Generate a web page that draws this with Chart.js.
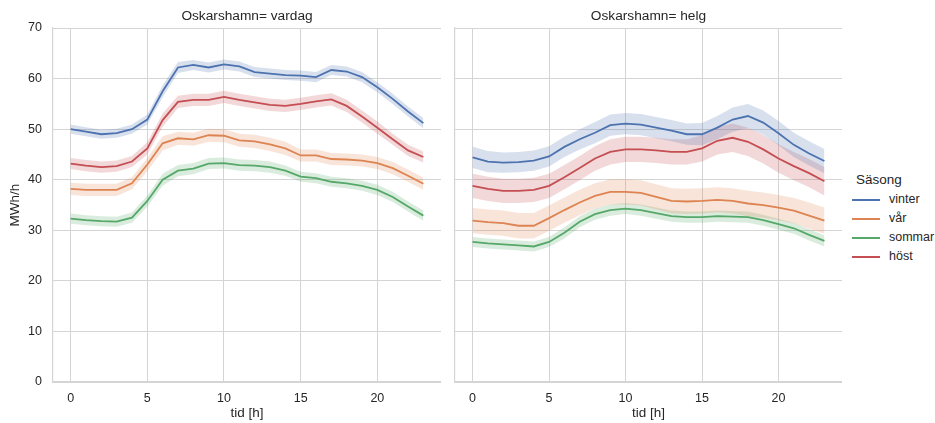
<!DOCTYPE html>
<html><head><meta charset="utf-8">
<script src="https://cdn.jsdelivr.net/npm/chart.js@4/dist/chart.umd.min.js"></script>
<style>
html,body{margin:0;padding:0;background:#fff;width:935px;height:423px;overflow:hidden;font-family:"Liberation Sans",Arial,sans-serif;}
#c1{position:absolute;left:0;top:0;}
#c2{position:absolute;left:445px;top:0;}
#legend{position:absolute;left:846px;top:170px;color:#262626;font-size:12.5px;}
#legend .t{font-size:13.5px;margin-left:10px;height:20px;line-height:20px;}
#legend .r{height:19px;line-height:19px;display:flex;align-items:center;}
#legend .r span.l{display:inline-block;width:28px;height:2px;margin-left:6px;margin-right:9px;}
</style></head>
<body>
<canvas id="c1" width="441" height="423"></canvas>
<canvas id="c2" width="397" height="423"></canvas>
<div id="legend"></div>
<script>
const hours = [0,1,2,3,4,5,6,7,8,9,10,11,12,13,14,15,16,17,18,19,20,21,22,23];
const seasons = ["vinter","vår","sommar","höst"];
const panelTitles = ["Oskarshamn= vardag","Oskarshamn= helg"];
const xTicks = [0,5,10,15,20];
const yTicks = [0,10,20,30,40,50,60,70];

// vardag (weekday)
const vinterVardag = [50,49.5,49,49.2,50,51.9,57.5,62.2,62.7,62.2,62.8,62.4,61.3,61,60.7,60.6,60.3,61.7,61.4,60.3,58.3,56,53.5,51.2];
const varVardag    = [38.2,38,38,38,39.3,43,47.2,48.2,48,48.8,48.7,47.8,47.6,47,46.2,44.8,44.8,44.1,44,43.8,43.3,42.3,40.8,39.2];
const sommarVardag = [32.3,32,31.8,31.7,32.5,35.8,40,41.8,42.2,43.2,43.3,42.9,42.8,42.5,41.8,40.6,40.3,39.6,39.3,38.8,38,36.6,34.7,32.9];
const hostVardag   = [43.2,42.8,42.5,42.7,43.6,46.2,51.8,55.4,55.8,55.8,56.4,55.8,55.3,54.8,54.6,55,55.5,55.9,54.6,52.5,50.3,48,45.8,44.5];
// helg (weekend)
const vinterHelg = [44.4,43.6,43.4,43.5,43.8,44.6,46.5,48,49.3,50.8,51.1,50.9,50.3,49.7,49,49,50.3,51.9,52.6,51.3,49.2,46.9,45.2,43.7];
const varHelg    = [31.9,31.6,31.4,30.9,30.9,32.4,34,35.5,36.8,37.6,37.6,37.4,36.6,35.8,35.7,35.8,36,35.8,35.3,35,34.5,33.9,32.9,31.9];
const sommarHelg = [27.7,27.4,27.2,27,26.8,27.7,29.5,31.7,33.2,34,34.3,34,33.4,32.8,32.6,32.6,32.8,32.7,32.6,32,31.2,30.4,29.1,27.9];
const hostHelg   = [38.8,38.2,37.8,37.8,38,38.8,40.5,42.3,44.2,45.5,46,46,45.8,45.5,45.5,46.2,47.7,48.3,47.5,46,44.2,42.7,41.3,39.7];

// confidence-band half widths
const vinterVardagCi = [0.9,0.9,0.9,0.9,0.9,1.0,1.2,1.1,1.0,1.0,1.0,1.0,1.0,1.0,1.0,1.0,1.0,1.0,1.0,1.0,1.0,1.0,1.0,1.0];
const varVardagCi    = [1.2,1.2,1.2,1.2,1.2,1.3,1.4,1.3,1.3,1.3,1.3,1.3,1.3,1.3,1.3,1.2,1.2,1.2,1.2,1.2,1.2,1.2,1.2,1.2];
const sommarVardagCi = [1.0,1.0,1.0,1.0,1.0,1.1,1.2,1.1,1.1,1.1,1.1,1.1,1.1,1.1,1.0,1.0,1.0,1.0,1.0,1.0,1.0,1.0,1.0,1.0];
const hostVardagCi   = [1.1,1.1,1.1,1.1,1.1,1.2,1.3,1.2,1.2,1.2,1.2,1.2,1.2,1.2,1.2,1.2,1.2,1.2,1.2,1.2,1.2,1.1,1.1,1.1];
const vinterHelgCi = [2.1,2.1,2.0,2.0,2.0,2.0,2.0,2.0,2.1,2.1,2.1,2.1,2.1,2.1,2.1,2.2,2.3,2.4,2.4,2.4,2.4,2.4,2.4,2.4];
const varHelgCi    = [2.5,2.5,2.5,2.5,2.5,2.5,2.5,2.5,2.5,2.5,2.5,2.5,2.5,2.5,2.5,2.5,2.5,2.5,2.5,2.5,2.5,2.5,2.6,2.6];
const sommarHelgCi = [1.0,1.0,1.0,1.0,1.0,1.0,1.1,1.1,1.1,1.1,1.1,1.1,1.1,1.1,1.1,1.1,1.1,1.1,1.1,1.1,1.1,1.1,1.1,1.1];
const hostHelgCi   = [2.4,2.4,2.4,2.4,2.4,2.4,2.4,2.4,2.4,2.5,2.5,2.5,2.5,2.5,2.5,2.6,2.7,2.8,2.8,2.8,2.8,2.8,2.8,2.8];

const colors = ["#4c72b0","#dd8452","#55a868","#c44e52"];
const bandColors = ["rgba(76,114,176,0.22)","rgba(221,132,82,0.22)","rgba(85,168,104,0.22)","rgba(196,78,82,0.22)"];
const FONT = "'Liberation Sans', Arial, sans-serif";
const TXT = "#262626";
const GRID = "#d4d4d4";

function buildDatasets(vals, cis){
  const ds = [];
  vals.forEach((v,i)=>{
    const ci = cis[i];
    ds.push({type:'line',data:hours.map((h,k)=>({x:h,y:v[k]-ci[k]})),borderWidth:0,pointRadius:0,fill:false,order:10,backgroundColor:bandColors[i]});
    ds.push({type:'line',data:hours.map((h,k)=>({x:h,y:v[k]+ci[k]})),borderWidth:0,pointRadius:0,fill:'-1',order:10,backgroundColor:bandColors[i]});
  });
  vals.forEach((v,i)=>{
    ds.push({type:'line',label:seasons[i],data:hours.map((h,k)=>({x:h,y:v[k]})),borderColor:colors[i],borderWidth:1.8,pointRadius:0,fill:false,order:1,tension:0});
  });
  return ds;
}

function makeChart(id, title, vals, cis, showY){
  return new Chart(document.getElementById(id), {
    type:'line',
    data:{datasets:buildDatasets(vals,cis)},
    options:{
      responsive:false, animation:false, events:[],
      layout:{padding:{left:0,right:0,top:0,bottom:0}},
      plugins:{
        legend:{display:false}, tooltip:{enabled:false},
        title:{display:true,text:title,fullSize:false,color:TXT,font:{family:FONT,size:13.7,weight:'normal'},lineHeight:1.2,padding:{top:8.5,bottom:3.1}}
      },
      scales:{
        x:{type:'linear',min:-1.15,max:24.15,
          afterBuildTicks:s=>{s.ticks=xTicks.map(v=>({value:v}));},
          afterFit:s=>{s.height=41;},
          grid:{color:GRID,lineWidth:1,drawTicks:false},
          border:{display:true,color:GRID,width:1.2},
          ticks:{color:TXT,font:{family:FONT,size:12.5},padding:9,maxRotation:0},
          title:{display:true,text:'tid [h]',color:TXT,font:{family:FONT,size:13.5},padding:{top:0,bottom:1.8}}
        },
        y:{type:'linear',min:0,max:70,
          afterBuildTicks:s=>{s.ticks=yTicks.map(v=>({value:v}));},
          afterFit:s=>{s.width=showY?53:10;},
          grid:{color:GRID,lineWidth:1,drawTicks:false},
          border:{display:true,color:GRID,width:1.2},
          ticks:{display:showY,color:TXT,font:{family:FONT,size:12.5},padding:11},
          title:{display:showY,text:'MWh/h',color:TXT,font:{family:FONT,size:13.5},padding:{top:7,bottom:0}}
        }
      }
    }
  });
}

makeChart('c1', panelTitles[0], [vinterVardag,varVardag,sommarVardag,hostVardag], [vinterVardagCi,varVardagCi,sommarVardagCi,hostVardagCi], true);
makeChart('c2', panelTitles[1], [vinterHelg,varHelg,sommarHelg,hostHelg], [vinterHelgCi,varHelgCi,sommarHelgCi,hostHelgCi], false);

const lg = document.getElementById('legend');
let html = '<div class="t">Säsong</div>';
seasons.forEach((s,i)=>{ html += '<div class="r"><span class="l" style="background:'+colors[i]+'"></span>'+s+'</div>'; });
lg.innerHTML = html;
</script>
</body></html>
